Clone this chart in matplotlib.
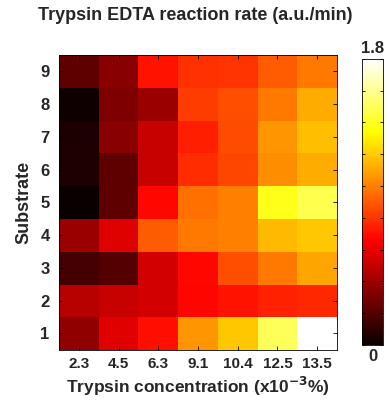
import matplotlib
matplotlib.use("Agg")
import matplotlib.pyplot as plt
import numpy as np

concentrations = ["2.3", "4.5", "6.3", "9.1", "10.4", "12.5", "13.5"]
substrates = ["1", "2", "3", "4", "5", "6", "7", "8", "9"]

# rows: substrate 1..9 ; columns: concentrations
row1 = [0.36, 0.58, 0.70, 1.06, 1.19, 1.50, 1.80]
row2 = [0.47, 0.51, 0.54, 0.67, 0.71, 0.75, 0.76]
row3 = [0.16, 0.20, 0.54, 0.68, 0.87, 0.98, 1.10]
row4 = [0.39, 0.57, 0.90, 0.98, 1.00, 1.16, 1.19]
row5 = [0.00, 0.23, 0.68, 0.96, 1.00, 1.39, 1.48]
row6 = [0.06, 0.23, 0.51, 0.78, 0.85, 1.04, 1.12]
row7 = [0.05, 0.34, 0.51, 0.74, 0.86, 1.06, 1.17]
row8 = [0.02, 0.31, 0.39, 0.82, 0.87, 0.98, 1.12]
row9 = [0.23, 0.34, 0.71, 0.79, 0.80, 0.90, 0.98]

data = np.array([row1, row2, row3, row4, row5, row6, row7, row8, row9])
vmin, vmax = 0.0, 1.8

plt.rcParams['font.family'] = ['Liberation Sans', 'DejaVu Sans']
plt.rcParams['font.weight'] = 'bold'
plt.rcParams['mathtext.default'] = 'bf'

txt = '#262626'
fig = plt.figure(figsize=(3.9, 4.01), dpi=100)
ax = fig.add_axes([0.152, 0.128, 0.712, 0.735])
im = ax.imshow(data, cmap='hot', vmin=vmin, vmax=vmax, origin='lower',
               aspect='auto', interpolation='nearest')
ax.set_xticks(range(len(concentrations)))
ax.set_xticklabels(concentrations, fontsize=11, fontweight='bold', color=txt)
ax.set_yticks(range(len(substrates)))
ax.set_yticklabels(substrates, fontsize=12, fontweight='bold', color=txt)
ax.tick_params(direction='in', top=True, right=True, length=3, width=0.6)
ax.tick_params(axis='x', pad=5)
ax.tick_params(axis='y', pad=7)
for s in ax.spines.values():
    s.set_linewidth(0.6)
ax.set_xlabel("Trypsin concentration (x10$^{-3}$%)", fontsize=12.5,
              fontweight='bold', color=txt, labelpad=3)
ax.set_ylabel("Substrate", fontsize=13, fontweight='bold', color=txt, labelpad=6)
fig.text(0.5, 0.962, "Trypsin EDTA reaction rate (a.u./min)", ha='center', va='center',
         fontsize=13, fontweight='bold', color=txt)

cax = fig.add_axes([0.928, 0.140, 0.054, 0.713])
cb = fig.colorbar(im, cax=cax)
cb.set_ticks(np.arange(0, 1.81, 0.2))
cb.set_ticklabels([])
cax.tick_params(direction='in', left=True, right=True, length=2.5, width=0.6)
cb.outline.set_linewidth(0.6)
cax.text(0.5, 1.012, "1.8", transform=cax.transAxes, ha='center', va='bottom',
         fontsize=12, fontweight='bold', color=txt)
cax.text(0.5, -0.015, "0", transform=cax.transAxes, ha='center', va='top',
         fontsize=12, fontweight='bold', color=txt)

fig.savefig("out.png", dpi=100)
